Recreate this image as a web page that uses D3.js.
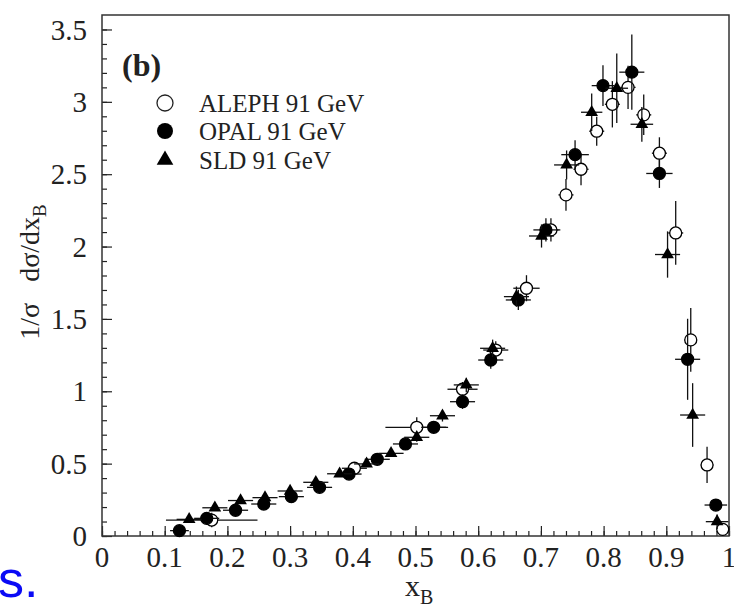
<!DOCTYPE html>
<html>
<head>
<meta charset="utf-8">
<script src="https://cdnjs.cloudflare.com/ajax/libs/d3/7.8.5/d3.min.js"></script>
<style>
body { margin: 0; background: #fff; }
svg { display: block; }
</style>
</head>
<body>
<script>
// datos (x, y, error x, error y)
var alephX    = [0.175, 0.4025, 0.502, 0.575, 0.628, 0.677, 0.716, 0.740, 0.764, 0.789, 0.814, 0.839, 0.864, 0.889, 0.915, 0.939, 0.965, 0.990];
var alephY    = [0.11, 0.468, 0.751, 1.014, 1.285, 1.712, 2.115, 2.357, 2.534, 2.797, 2.983, 3.10, 2.91, 2.645, 2.094, 1.355, 0.491, 0.046];
var alephXerr = [0.073, 0.02, 0.05, 0.024, 0.02, 0.021, 0.015, 0.012, 0.012, 0.012, 0.012, 0.012, 0.012, 0.012, 0.012, 0.01, 0.01, 0.008];
var alephYerr = [0.05, 0.03, 0.07, 0.05, 0.06, 0.09, 0.08, 0.11, 0.11, 0.10, 0.16, 0.15, 0.14, 0.11, 0.22, 0.22, 0.125, 0.03];

var opalX    = [0.1235, 0.167, 0.213, 0.258, 0.302, 0.347, 0.394, 0.439, 0.484, 0.529, 0.575, 0.620, 0.664, 0.708, 0.7545, 0.799, 0.845, 0.889, 0.934, 0.979];
var opalY    = [0.037, 0.122, 0.178, 0.221, 0.272, 0.336, 0.428, 0.53, 0.636, 0.751, 0.928, 1.216, 1.631, 2.115, 2.635, 3.112, 3.205, 2.505, 1.221, 0.214];
var opalXerr = [0.015, 0.02, 0.02, 0.02, 0.02, 0.02, 0.02, 0.02, 0.02, 0.02, 0.02, 0.02, 0.02, 0.02, 0.022, 0.018, 0.02, 0.021, 0.02, 0.018];
var opalYerr = [0.01, 0.02, 0.02, 0.02, 0.02, 0.02, 0.02, 0.02, 0.02, 0.03, 0.05, 0.06, 0.07, 0.08, 0.10, 0.14, 0.26, 0.10, 0.28, 0.04];

var sldX    = [0.139, 0.180, 0.221, 0.260, 0.300, 0.341, 0.379, 0.422, 0.461, 0.502, 0.543, 0.581, 0.623, 0.661, 0.701, 0.741, 0.781, 0.821, 0.861, 0.902, 0.942, 0.981];
var sldY    = [0.115, 0.195, 0.245, 0.265, 0.311, 0.371, 0.43, 0.498, 0.571, 0.682, 0.831, 1.044, 1.297, 1.654, 2.073, 2.564, 2.928, 3.094, 2.845, 1.945, 0.836, 0.099];
var sldXerr = [0.02, 0.02, 0.02, 0.02, 0.02, 0.02, 0.02, 0.02, 0.02, 0.02, 0.02, 0.02, 0.02, 0.02, 0.02, 0.02, 0.017, 0.018, 0.018, 0.02, 0.02, 0.018];
var sldYerr = [0.01, 0.02, 0.02, 0.02, 0.02, 0.02, 0.02, 0.02, 0.02, 0.03, 0.04, 0.05, 0.06, 0.07, 0.08, 0.10, 0.13, 0.24, 0.12, 0.16, 0.22, 0.05];

var xTicks = [0, 0.1, 0.2, 0.3, 0.4, 0.5, 0.6, 0.7, 0.8, 0.9, 1];
var xTickLabels = ["0", "0.1", "0.2", "0.3", "0.4", "0.5", "0.6", "0.7", "0.8", "0.9", "1"];
var yTicks = [0, 0.5, 1, 1.5, 2, 2.5, 3, 3.5];
var yTickLabels = ["0", "0.5", "1", "1.5", "2", "2.5", "3", "3.5"];
var legendNames = ["ALEPH 91 GeV", "OPAL 91 GeV", "SLD 91 GeV"];

// tamaño (ojo: "top" choca con window.top)
var W = 734, H = 608;
var margin = {left: 102, right: 729, top: 15, bottom: 536};

var x = d3.scaleLinear().domain([0, 1]).range([margin.left, margin.right]);
var y = d3.scaleLinear().domain([0, 3.6]).range([margin.bottom, margin.top]);

var svg = d3.select("body").append("svg")
  .attr("width", W)
  .attr("height", H)
  .style("font-family", "'Liberation Serif', 'DejaVu Serif', serif");

// ejes con ticks hacia dentro
var xMinor = d3.range(0, 1.0001, 0.02);
var yMinor = d3.range(0, 3.6, 0.1);

svg.append("g")
  .attr("transform", "translate(0," + margin.bottom + ")")
  .call(d3.axisTop(x).tickValues(xMinor).tickSize(5).tickFormat(""))
  .call(function(g) { g.select(".domain").remove(); });
svg.append("g")
  .attr("transform", "translate(0," + margin.bottom + ")")
  .call(d3.axisTop(x).tickValues(xTicks).tickSize(10).tickFormat(""))
  .call(function(g) { g.select(".domain").remove(); });

svg.append("g")
  .attr("transform", "translate(" + margin.left + ",0)")
  .call(d3.axisRight(y).tickValues(yMinor).tickSize(5).tickFormat(""))
  .call(function(g) { g.select(".domain").remove(); });
svg.append("g")
  .attr("transform", "translate(" + margin.left + ",0)")
  .call(d3.axisRight(y).tickValues(yTicks).tickSize(10).tickFormat(""))
  .call(function(g) { g.select(".domain").remove(); });

svg.selectAll(".tick line").attr("stroke", "#222").attr("stroke-width", 1.2);

// etiquetas de los ticks
svg.append("g").selectAll("text")
  .data(xTicks)
  .enter().append("text")
  .attr("x", function(d) { return x(d); })
  .attr("y", 567)
  .attr("text-anchor", "middle")
  .attr("font-size", 29)
  .attr("fill", "#222")
  .text(function(d, i) { return xTickLabels[i]; });

svg.append("g").selectAll("text")
  .data(yTicks)
  .enter().append("text")
  .attr("x", 87)
  .attr("y", function(d) { return y(d); })
  .attr("dy", "0.35em")
  .attr("text-anchor", "end")
  .attr("font-size", 29)
  .attr("fill", "#222")
  .text(function(d, i) { return yTickLabels[i]; });

// marco
svg.append("rect")
  .attr("x", margin.left).attr("y", margin.top)
  .attr("width", margin.right - margin.left).attr("height", margin.bottom - margin.top)
  .attr("fill", "none").attr("stroke", "#333").attr("stroke-width", 1.5);

// titulos de ejes
var xl = svg.append("text")
  .attr("x", 405).attr("y", 596)
  .attr("font-size", 30).attr("fill", "#222");
xl.append("tspan").text("x");
xl.append("tspan").attr("dy", 8).attr("font-size", 20).text("B");

var yl = svg.append("text")
  .attr("transform", "translate(39,272) rotate(-90)")
  .attr("text-anchor", "middle")
  .attr("font-size", 28).attr("fill", "#222");
yl.append("tspan").text("1/\u03c3\u2002 d\u03c3/dx");
yl.append("tspan").attr("dy", 7).attr("font-size", 19).text("B");

// texto (b)
svg.append("text")
  .attr("x", 122).attr("y", 76)
  .attr("font-size", 32).attr("font-weight", "bold").attr("fill", "#222")
  .text("(b)");

// barras de error y marcadores
function dibujaSerie(xs, ys, xe, ye, tipo) {
  var g = svg.append("g");
  var datos = xs.map(function(d, i) { return {x: d, y: ys[i], xe: xe[i], ye: ye[i]}; });
  g.selectAll(".ex").data(datos).enter().append("line")
    .attr("x1", function(d) { return x(d.x - d.xe); })
    .attr("x2", function(d) { return x(d.x + d.xe); })
    .attr("y1", function(d) { return y(d.y); })
    .attr("y2", function(d) { return y(d.y); })
    .attr("stroke", "#111").attr("stroke-width", 1.3);
  g.selectAll(".ey").data(datos).enter().append("line")
    .attr("x1", function(d) { return x(d.x); })
    .attr("x2", function(d) { return x(d.x); })
    .attr("y1", function(d) { return y(Math.max(0, d.y - d.ye)); })
    .attr("y2", function(d) { return y(d.y + d.ye); })
    .attr("stroke", "#111").attr("stroke-width", 1.3);
  if (tipo == "tri") {
    g.selectAll("path").data(datos).enter().append("path")
      .attr("d", d3.symbol().type(d3.symbolTriangle).size(70))
      .attr("transform", function(d) { return "translate(" + x(d.x) + "," + y(d.y) + ")"; })
      .attr("fill", "#000");
  } else {
    g.selectAll("circle").data(datos).enter().append("circle")
      .attr("cx", function(d) { return x(d.x); })
      .attr("cy", function(d) { return y(d.y); })
      .attr("r", 6)
      .attr("fill", tipo == "open" ? "#fff" : "#000")
      .attr("stroke", "#000").attr("stroke-width", 1.3);
  }
}

dibujaSerie(alephX, alephY, alephXerr, alephYerr, "open");
dibujaSerie(opalX, opalY, opalXerr, opalYerr, "fill");
dibujaSerie(sldX, sldY, sldXerr, sldYerr, "tri");

// leyenda
var leg = svg.append("g");
var filas = [103, 131, 160];
leg.append("circle").attr("cx", 165).attr("cy", filas[0]).attr("r", 8)
  .attr("fill", "#fff").attr("stroke", "#222").attr("stroke-width", 1.3);
leg.append("circle").attr("cx", 165).attr("cy", filas[1]).attr("r", 8)
  .attr("fill", "#000");
leg.append("path").attr("d", d3.symbol().type(d3.symbolTriangle).size(120))
  .attr("transform", "translate(165," + filas[2] + ")").attr("fill", "#000");
leg.selectAll("text").data(legendNames).enter().append("text")
  .attr("x", 199)
  .attr("y", function(d, i) { return filas[i] + 9; })
  .attr("font-size", 25).attr("fill", "#222")
  .text(function(d) { return d; });

// trozo de texto azul abajo a la izquierda
svg.append("text")
  .attr("x", -2).attr("y", 597)
  .attr("font-family", "'Liberation Sans', Arial, sans-serif")
  .attr("font-size", 52).attr("fill", "#0a0af5")
  .text("s.");
</script>
</body>
</html>
